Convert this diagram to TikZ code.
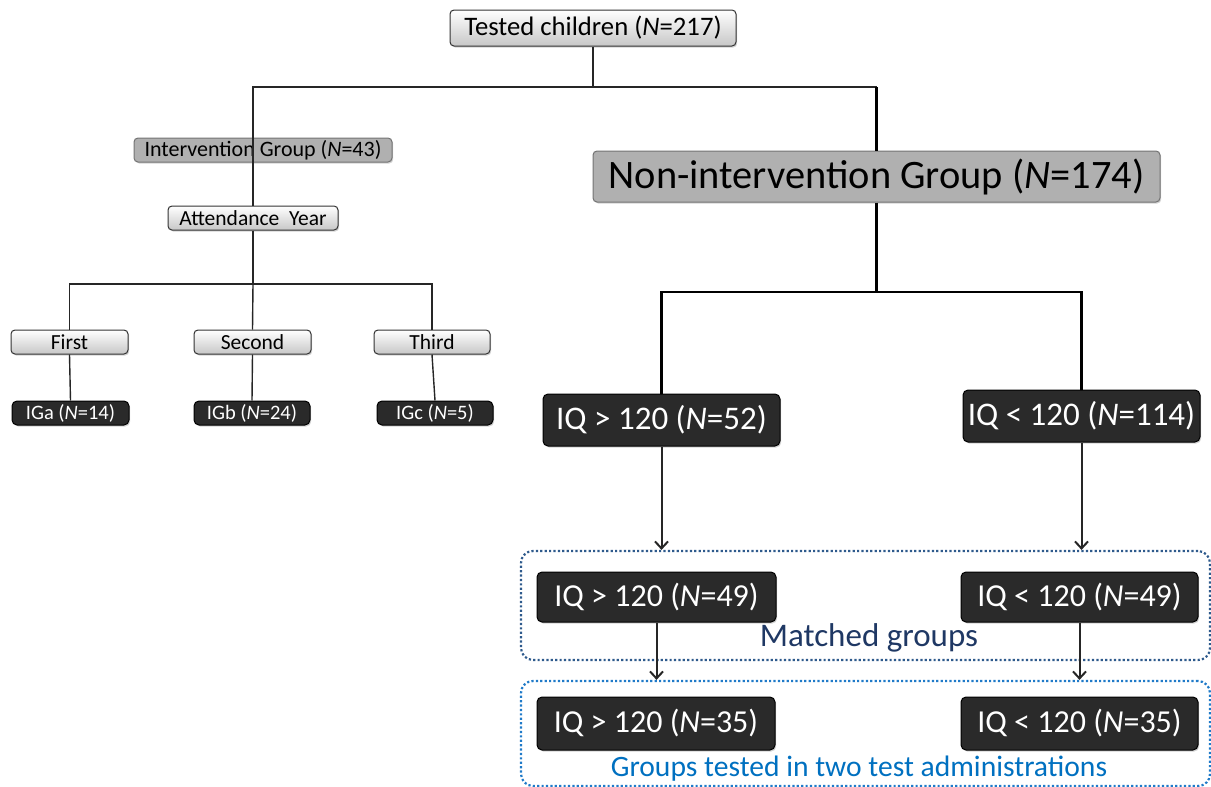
\documentclass[tikz,border=0pt]{standalone}
\usepackage{fontspec}
\setmainfont{Carlito}
\usetikzlibrary{arrows.meta,shadows}
\definecolor{navy}{HTML}{1F3864}
\definecolor{dotnavy}{HTML}{2E5A8C}
\definecolor{dotblue}{HTML}{1F7AC8}
\definecolor{textblue}{HTML}{0070C0}
\definecolor{darkfill}{HTML}{2A2A2A}
\begin{document}
\begin{tikzpicture}[x=1pt,y=-1pt,
  basebox/.style={inner sep=0pt, rounded corners=4pt,
    drop shadow={shadow xshift=1.2pt, shadow yshift=-1.5pt, opacity=0.35}},
  lightbox/.style={basebox, draw=black!80, line width=1pt, top color=white, bottom color=black!22,
    minimum height=24pt, font=\fontsize{21.5}{25}\selectfont},
  graybox/.style={basebox, draw=black!55, line width=1pt, fill=black!31},
  darkbox/.style={basebox, draw=black, line width=1pt, fill=darkfill, text=white, rounded corners=5pt},
  smalldark/.style={darkbox, minimum height=24pt, font=\fontsize{20.5}{24}\selectfont},
  bigdark/.style={darkbox, minimum width=237pt, font=\fontsize{32}{38}\selectfont},
  dotbox/.style={draw, line width=2.2pt, dash pattern=on 2.2pt off 2.2pt, rounded corners=12pt,
    inner sep=0pt, minimum width=689pt},
  conn/.style={draw=black!85, line width=1.4pt},
  thickconn/.style={draw=black, line width=2.6pt},
  arr/.style={draw=black!85, line width=2pt, -{Straight Barb[length=7pt,width=13pt,line width=2pt]}}
]
\useasboundingbox (0,0) rectangle (1211,787);

% dotted group frames
\node[dotbox, draw=dotnavy, minimum height=109pt] (matched) at (865.5,605.5) {};
\node[dotbox, draw=dotblue, minimum height=105pt] (tested2) at (865.5,733.5) {};
\node[text=navy, font=\fontsize{33}{39}\selectfont] (matchedlbl) at (869,638) {Matched groups};
\node[text=textblue, font=\fontsize{29.6}{35}\selectfont] (testedlbl) at (859,769) {Groups tested in two test administrations};

% left tree nodes
\node[lightbox, minimum width=286pt, minimum height=36pt, font=\fontsize{26.7}{31}\selectfont] (tested) at (593,28) {Tested children (\textit{N}=217)};
\node[graybox, minimum width=258pt, minimum height=24pt, font=\fontsize{22}{26}\selectfont] (ig) at (263,150) {Intervention Group (\textit{N}=43)};
\node[lightbox, minimum width=170pt] (att) at (253,218) {Attendance\ \ Year};
\node[lightbox, minimum width=117pt] (first) at (69.5,342) {First};
\node[lightbox, minimum width=117pt] (second) at (252.5,342) {Second};
\node[lightbox, minimum width=116pt] (third) at (432,342) {Third};
\node[smalldark, minimum width=117pt] (iga) at (70.5,413) {IGa (\textit{N}=14)};
\node[smalldark, minimum width=116pt] (igb) at (252,413) {IGb (\textit{N}=24)};
\node[smalldark, minimum width=116pt] (igc) at (435,413) {IGc (\textit{N}=5)};

% right tree nodes
\node[graybox, minimum width=567pt, minimum height=51pt, font=\fontsize{40.4}{46}\selectfont] (nonint) at (876.5,176.5) {Non-intervention Group (\textit{N}=174)};
\node[bigdark, minimum height=52pt, font=\fontsize{33}{39}\selectfont] (hi52) at (661.5,420) {IQ > 120 (\textit{N}=52)};
\node[bigdark, minimum height=52pt, font=\fontsize{33}{39}\selectfont] (lo114) at (1081.5,416) {IQ < 120 (\textit{N}=114)};
\node[bigdark, minimum width=239pt, minimum height=50pt] (hi49) at (656.5,597) {IQ > 120 (\textit{N}=49)};
\node[bigdark, minimum height=50pt] (lo49) at (1079.5,597) {IQ < 120 (\textit{N}=49)};
\node[bigdark, minimum width=238pt, minimum height=53pt] (hi35) at (656,723.5) {IQ > 120 (\textit{N}=35)};
\node[bigdark, minimum height=53pt] (lo35) at (1079.5,723.5) {IQ < 120 (\textit{N}=35)};

% junctions
\coordinate (j1) at (593,87);
\coordinate (j2) at (253,284);
\coordinate (j3) at (876.5,292);

% connectors
\draw[conn] (tested.south) -- (j1);
\draw[conn] (j1) -| (att.north);
\draw[conn] (j1) -- (j1 -| nonint.north);
\draw[thickconn] (j1 -| nonint.north) -- (nonint.north);
\draw[conn] (att.south) -- (j2);
\draw[conn] (first.north) |- (j2) -| (third.north);
\draw[conn] (j2) -- (second.north);
\draw[conn] (first.south) -- (iga.north);
\draw[conn] (second.south) -- (igb.north);
\draw[conn] (third.south) -- (igc.north);

\draw[thickconn] (nonint.south) -- (j3);
\draw[thickconn] (hi52.north) |- (j3) -| (lo114.north);

\draw[arr] (hi52.south) -- (hi52.south |- matched.north);
\draw[arr] (lo114.south) -- (lo114.south |- matched.north);
\draw[arr] (hi49.south) -- (hi49.south |- tested2.north);
\draw[arr] (lo49.south) -- (lo49.south |- tested2.north);
\end{tikzpicture}
\end{document}
